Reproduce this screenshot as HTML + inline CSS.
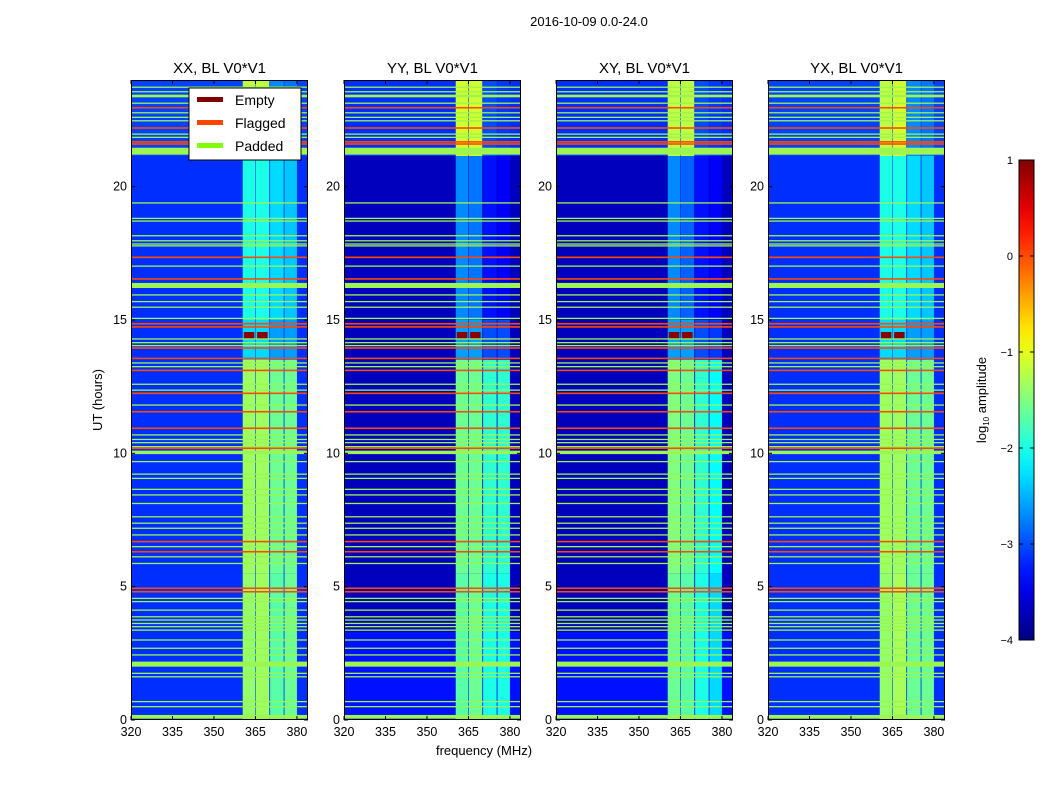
<!DOCTYPE html>
<html><head><meta charset="utf-8">
<style>
body{margin:0;background:#fff;font-family:"Liberation Sans",sans-serif;}
svg text{font-family:"Liberation Sans",sans-serif;}
</style></head>
<body>
<svg id="fig" width="1050" height="800" viewBox="0 0 1050 800" xmlns="http://www.w3.org/2000/svg">
<rect width="1050" height="800" fill="#fff"/>
<text x="589" y="26" font-size="13" text-anchor="middle">2016-10-09 0.0-24.0</text>
<g id="panels"></g>
<text transform="translate(102,400) rotate(-90)" font-size="13" text-anchor="middle">UT (hours)</text>
<text x="484" y="755" font-size="13" text-anchor="middle">frequency (MHz)</text>
<g id="cbar"></g>
<text transform="translate(986,400) rotate(-90)" font-size="13" text-anchor="middle">log<tspan font-size="8" dy="3">10</tspan><tspan dy="-3"> amplitude</tspan></text>
<g>
<rect x="189" y="88" width="112" height="72" fill="#fff" stroke="#000" stroke-width="1"/>
<rect x="197" y="97" width="26" height="5" fill="#800000"/>
<text x="235" y="105" font-size="14">Empty</text>
<rect x="197" y="120" width="26" height="5" fill="#ff4500"/>
<text x="235" y="128" font-size="14">Flagged</text>
<rect x="197" y="143" width="26" height="5" fill="#7fff00"/>
<text x="235" y="151" font-size="14">Padded</text>
</g>
</svg>
<script>
// ---- data ----
const panelTitles = ["XX, BL V0*V1","YY, BL V0*V1","XY, BL V0*V1","YX, BL V0*V1"];
const xTicks = [320,335,350,365,380];
const yTicks = [0,5,10,15,20];
const cbarTicks = [-4,-3,-2,-1,0,1];
// background log amplitude per panel, by time segment
const bgSegStart = [0, 3.3, 21.15];
const bgSegEnd = [3.3, 21.15, 24];
const bgLevels = [[-3.15,-3.15,-3.05],[-3.3,-3.7,-3.15],[-3.3,-3.7,-3.15],[-3.15,-3.15,-3.05]];
// RFI band columns (MHz)
const bandStart = [360.4, 365.2, 370.3, 375.5];
const bandEnd = [365.0, 370.0, 375.2, 380.0];
const timeSegStart = [0, 5.5, 13.5, 15, 21.15];
const timeSegEnd = [5.5, 13.5, 15, 21.15, 24];
// levels[panel][column][timeSeg]
const bandLevels = [
 [[-1.4,-1.35,-2.3,-2.0,-1.2],[-1.35,-1.35,-2.3,-2.0,-1.2],[-1.7,-1.6,-2.6,-2.3,-2.7],[-1.6,-1.6,-2.6,-2.4,-2.8]],
 [[-1.7,-1.6,-2.6,-2.7,-1.1],[-1.6,-1.6,-2.6,-2.8,-1.1],[-2.0,-1.9,-3.0,-3.3,-3.0],[-2.0,-1.9,-3.0,-3.4,-3.1]],
 [[-1.6,-1.5,-2.6,-2.7,-1.2],[-1.7,-1.6,-2.6,-2.9,-1.2],[-2.0,-1.9,-3.0,-3.3,-3.0],[-2.3,-2.1,-3.1,-3.4,-3.1]],
 [[-1.4,-1.35,-2.3,-2.0,-1.2],[-1.3,-1.35,-2.3,-2.0,-1.1],[-1.6,-1.6,-2.6,-2.3,-2.7],[-1.6,-1.6,-2.6,-2.4,-2.8]]
];
// padded rows (hours), thin
const paddedHours = [0.5,0.69,1.62,1.75,2.44,2.69,3.0,3.37,3.5,3.62,3.75,3.87,4.12,4.44,4.56,5.87,6.12,6.5,6.94,7.19,7.38,7.62,8.12,8.44,8.65,9.06,9.22,9.69,10.25,10.4,10.52,10.69,11.81,12.37,12.59,13.25,13.39,14.04,14.15,14.29,15.06,15.48,15.69,15.94,17.02,17.78,17.85,17.97,18.16,18.71,18.81,19.39,21.85,21.97,22.47,22.6,22.77,23.13,23.56,23.73];
// padded blocks
const paddedBlockStart = [0.05, 2.0, 9.97, 16.2, 21.2, 23.35];
const paddedBlockEnd = [0.19, 2.19, 10.1, 16.39, 21.46, 23.45];
// flagged rows
const flaggedHours = [4.81,4.94,6.31,6.69,10.19,10.94,11.56,12.25,13.11,13.56,13.95,14.74,14.86,16.54,17.35,21.6,21.68,22.2,22.96];
// empty blocks (hours, MHz)
const emptyStart = [14.3, 14.3];
const emptyEnd = [14.55, 14.55];
const emptyF0 = [360.8, 365.6];
const emptyF1 = [364.6, 369.4];

// ---- geometry ----
const panelX = [131,344,556,768], PW=177, PT=80, PB=720;
const fMin=320, fMax=384, tMin=0, tMax=24;
const NS="http://www.w3.org/2000/svg";
function xs(p,f){return panelX[p]+(f-fMin)/(fMax-fMin)*PW;}
function ys(t){return PB-(t-tMin)/(tMax-tMin)*(PB-PT);}
function jet(v){
  let x=(v+4)/5; x=Math.max(0,Math.min(1,x));
  function c(a){return Math.max(0,Math.min(1,a));}
  const r=c(1.5-Math.abs(4*x-3)), g=c(1.5-Math.abs(4*x-2)), b=c(1.5-Math.abs(4*x-1));
  return `rgb(${Math.round(r*255)},${Math.round(g*255)},${Math.round(b*255)})`;
}
function mk(tag,attrs,parent){const e=document.createElementNS(NS,tag);for(const k in attrs)e.setAttribute(k,attrs[k]);parent.appendChild(e);return e;}
const root=document.getElementById('panels');
for(let p=0;p<4;p++){
  const g=mk('g',{},root);
  
  
  const cp=mk('clipPath',{id:'cp'+p},g);
  mk('rect',{x:panelX[p],y:PT,width:PW,height:PB-PT},cp);
  const h=mk('g',{'clip-path':'url(#cp'+p+')'},g);
  
  
  for(let s=0;s<bgSegStart.length;s++){
    const r=mk('rect',{x:panelX[p],y:ys(bgSegEnd[s]),width:PW,height:ys(bgSegStart[s])-ys(bgSegEnd[s]),fill:jet(bgLevels[p][s])},h);
    
    
  }
  for(let c=0;c<bandStart.length;c++){
    for(let s=0;s<timeSegStart.length;s++){
      const r=mk('rect',{x:xs(p,bandStart[c]),y:ys(timeSegEnd[s]),width:xs(p,bandEnd[c])-xs(p,bandStart[c]),height:ys(timeSegStart[s])-ys(timeSegEnd[s]),fill:jet(bandLevels[p][c][s])},h);
      
      
    }
  }
  for(let i=0;i<emptyStart.length;i++){
    const r=mk('rect',{x:xs(p,emptyF0[i]),y:ys(emptyEnd[i]),width:xs(p,emptyF1[i])-xs(p,emptyF0[i]),height:ys(emptyStart[i])-ys(emptyEnd[i]),fill:'#8a0000'},h);
    
    
  }
  for(const t of paddedHours){
    const r=mk('rect',{x:panelX[p],y:ys(t)-0.65,width:PW,height:1.3,fill:'#9cf550'},h);
    
    
  }
  for(let i=0;i<paddedBlockStart.length;i++){
    const r=mk('rect',{x:panelX[p],y:ys(paddedBlockEnd[i]),width:PW,height:ys(paddedBlockStart[i])-ys(paddedBlockEnd[i]),fill:'#9cf550'},h);
    
    
  }
  for(const t of flaggedHours){
    const r=mk('rect',{x:panelX[p],y:ys(t)-0.8,width:PW,height:1.6,fill:'#ff4a00'},h);
    
    
  }
  const fr=mk('rect',{x:panelX[p]+0.5,y:PT+0.5,width:PW-1,height:PB-PT-1,fill:'none',stroke:'#000','stroke-width':1},g);
  
  
  const tt=mk('text',{x:panelX[p]+PW/2,y:73,'font-size':15,'text-anchor':'middle'},g);
  tt.textContent=panelTitles[p];
  
  
  for(const f of xTicks){
    const x=xs(p,f);
    mk('line',{x1:x,x2:x,y1:PB,y2:PB-4,stroke:'#000'},g);
    mk('line',{x1:x,x2:x,y1:PT,y2:PT+4,stroke:'#000'},g);
    const l=mk('text',{x:x,y:PB+16,'font-size':12.5,'text-anchor':'middle'},g);
    l.textContent=f;
    
    
  }
  for(const t of yTicks){
    const y=ys(t);
    mk('line',{x1:panelX[p],x2:panelX[p]+4,y1:y,y2:y,stroke:'#000'},g);
    mk('line',{x1:panelX[p]+PW,x2:panelX[p]+PW-4,y1:y,y2:y,stroke:'#000'},g);
    const l=mk('text',{x:panelX[p]-4,y:y+4,'font-size':12.5,'text-anchor':'end'},g);
    l.textContent=t;
    
    
  }
}
// colorbar
const cb=document.getElementById('cbar');
const CX=1019,CW=15,CT=160,CB=640;
const defs=mk('defs',{},cb);
const lg=mk('linearGradient',{id:'jetg',x1:0,y1:1,x2:0,y2:0},defs);
for(let i=0;i<=20;i++){mk('stop',{offset:i/20,'stop-color':jet(-4+5*i/20)},lg);}
mk('rect',{x:CX,y:CT,width:CW,height:CB-CT,fill:'url(#jetg)',stroke:'#000','stroke-width':1},cb);
for(const v of cbarTicks){
  const y=CB-(v+4)/5*(CB-CT);
  mk('line',{x1:CX,x2:CX+4,y1:y,y2:y,stroke:'#000'},cb);
  mk('line',{x1:CX+CW,x2:CX+CW-4,y1:y,y2:y,stroke:'#000'},cb);
  const l=mk('text',{x:CX-6,y:y+4,'font-size':11,'text-anchor':'end'},cb);
  l.textContent=v<0?'\u2212'+(-v):String(v);
  
  
}
</script>
</body></html>
